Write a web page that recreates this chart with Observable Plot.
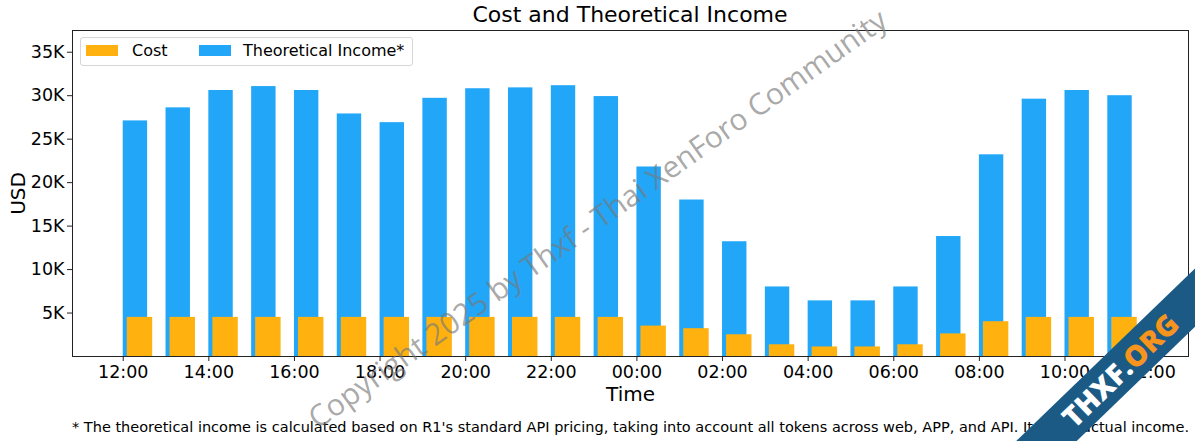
<!DOCTYPE html>
<html>
<head>
<meta charset="utf-8">
<script src="https://cdn.jsdelivr.net/npm/d3@7"></script>
<script src="https://cdn.jsdelivr.net/npm/@observablehq/plot@0.6"></script>
<style>
  html, body { margin: 0; padding: 0; background: #fff; }
  body { width: 1195px; height: 441px; overflow: hidden; position: relative; font-family: "DejaVu Sans", sans-serif; color: #000; }
  .abs { position: absolute; white-space: nowrap; }
  #title { left: 72px; width: 1116px; top: 2px; height: 26px; line-height: 26px; text-align: center; font-size: 22px; }
  #chart { left: 0; top: 26px; }
  #foot { left: 72px; width: 1116px; top: 417px; line-height: 20px; text-align: center; font-size: 14.5px; }
  #legend { left: 80px; top: 37px; width: 331px; height: 27px; border: 1px solid #d6d6d6; border-radius: 3px; background: rgba(255,255,255,0.8); }
  .sw { position: absolute; top: 7px; width: 32px; height: 11px; }
  .lt { position: absolute; top: 2px; line-height: 22px; font-size: 16px; }
  #wm { left: 597px; top: 218px; transform: translate(-50%, -50%) rotate(-35.3deg); font-family: "Open Sans", sans-serif; font-size: 30px; color: rgba(120,120,120,0.65); }
  #ribbon { left: 1120px; top: 370px; width: 300px; height: 42px; line-height: 42px; transform: translate(-50%, -50%) rotate(-44deg); background: #1c5a86; text-align: center; font-family: "Open Sans", sans-serif; font-weight: 800; font-size: 29px; color: #fff; }
</style>
</head>
<body>
<div id="title" class="abs">Cost and Theoretical Income</div>
<div id="chart" class="abs"></div>
<div id="legend" class="abs"></div>
<div id="foot" class="abs">* The theoretical income is calculated based on R1's standard API pricing, taking into account all tokens across web, APP, and API. It is not actual income.</div>
<div id="wm" class="abs">Copyright 2025 by Thxf - Thai XenForo Community</div>
<div id="ribbon" class="abs">THXF.<span style="color:#f7941d">ORG</span></div>
<script>
// ---- data ----
const hours = ["12:00","13:00","14:00","15:00","16:00","17:00","18:00","19:00","20:00","21:00","22:00","23:00",
               "00:00","01:00","02:00","03:00","04:00","05:00","06:00","07:00","08:00","09:00","10:00","11:00"];
const income = [27100, 28600, 30600, 31050, 30600, 27900, 26900, 29700, 30800, 30900, 31150, 29900,
                21800, 18000, 13200, 8000, 6400, 6400, 8000, 13800, 23200, 29600, 30600, 30000];
const cost = [4500, 4500, 4500, 4500, 4500, 4500, 4500, 4500, 4500, 4500, 4500, 4500,
              3500, 3200, 2500, 1350, 1100, 1100, 1350, 2600, 4000, 4500, 4500, 4500];
const tickLabels = ["12:00","14:00","16:00","18:00","20:00","22:00","00:00","02:00","04:00","06:00","08:00","10:00","12:00"];
const yTicks = [5000, 10000, 15000, 20000, 25000, 30000, 35000];
const seriesNames = ["Cost", "Theoretical Income*"];
const colors = { cost: "#ffb20f", income: "#21a6f8" };

const rows = hours.map((h, i) => ({ i, hour: h, cost: cost[i], income: income[i] }));
const tickPos = tickLabels.map((_, k) => k * 2);

const plot = Plot.plot({
  width: 1195,
  height: 380,
  marginLeft: 72,
  marginRight: 7,
  marginTop: 4,
  marginBottom: 50,
  style: { fontFamily: "DejaVu Sans", fontSize: "17.5px", color: "#000", background: "transparent", overflow: "visible" },
  x: { type: "linear", domain: [-1.185, 24.885] },
  y: { domain: [0, 37500] },
  marks: [
    Plot.rectY(rows, { x1: d => d.i, x2: d => d.i + 0.57, y1: 0, y2: "income", fill: colors.income }),
    Plot.rectY(rows, { x1: d => d.i + 0.094, x2: d => d.i + 0.688, y1: 0, y2: "cost", fill: colors.cost }),
    Plot.axisX({ ticks: tickPos, tickFormat: (d, k) => tickLabels[k], tickSize: 5, tickPadding: 4,
                 label: "Time", labelAnchor: "center", labelArrow: "none", labelOffset: 44, stroke: "#222" }),
    Plot.axisY({ ticks: yTicks, tickFormat: d => (d / 1000) + "K", tickSize: 5, tickPadding: 3,
                 label: "USD", labelAnchor: "center", labelArrow: "none", labelOffset: 62, stroke: "#222" }),
    Plot.frame({ stroke: "#222", strokeWidth: 1 })
  ]
});
document.getElementById("chart").appendChild(plot);
d3.select(plot).selectAll('g[aria-label="x-axis label"] text, g[aria-label="y-axis label"] text').style("font-size", "20px");

// legend
const lg = document.getElementById("legend");
lg.innerHTML =
  `<div class="sw" style="left:5px;background:${colors.cost}"></div>` +
  `<div class="lt" style="left:51px">${seriesNames[0]}</div>` +
  `<div class="sw" style="left:118px;background:${colors.income}"></div>` +
  `<div class="lt" style="left:162px">${seriesNames[1]}</div>`;
</script>
</body>
</html>
